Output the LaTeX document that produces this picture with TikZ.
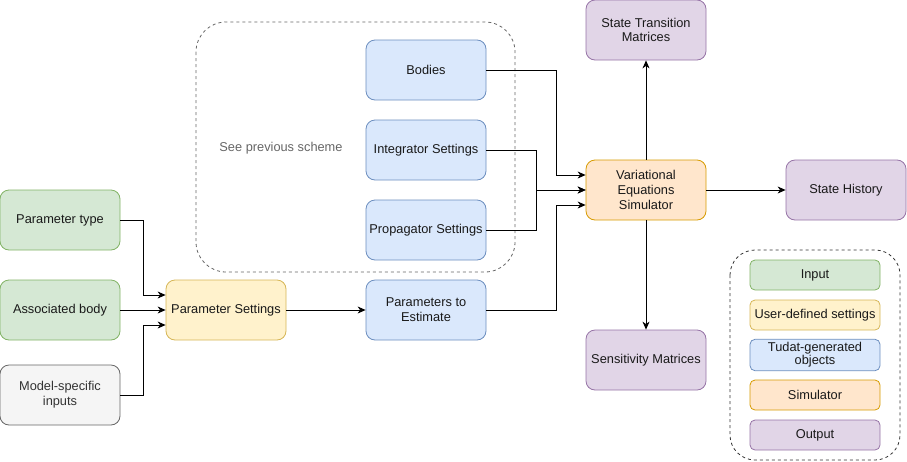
\documentclass[tikz,border=0pt]{standalone}
\usepackage{fontspec}
\setmainfont{Liberation Sans}
\usetikzlibrary{arrows, shapes, positioning, backgrounds, arrows.meta, calc, fit}
\definecolor{inFill}{HTML}{D5E8D4}
\definecolor{inLine}{HTML}{82B366}
\definecolor{usFill}{HTML}{FFF2CC}
\definecolor{usLine}{HTML}{D6B656}
\definecolor{tuFill}{HTML}{DAE8FC}
\definecolor{tuLine}{HTML}{6C8EBF}
\definecolor{siFill}{HTML}{FFE6CC}
\definecolor{siLine}{HTML}{D79B00}
\definecolor{ouFill}{HTML}{E1D5E7}
\definecolor{ouLine}{HTML}{9673A6}
\definecolor{mdFill}{HTML}{F5F5F5}
\definecolor{mdLine}{HTML}{666666}
\definecolor{mdText}{HTML}{333333}
\newcommand{\feed}[3]
{
	\draw[flow] (#2.east) -- +(#1,0) |- (#3)
}

\begin{document}
\begin{tikzpicture}[x=1pt, y=-1pt,
	every node/.append style={shape=rectangle, rounded corners=9pt,
		line width=0.8pt, align=center, text=black!90,
		font=\fontsize{12.8}{14.8}\selectfont},
	minimum width=120pt,
	minimum height=60pt,
	flow/.style={draw=black, line width=0.8pt, -{Stealth[length=8pt, width=7pt, inset=2.5pt]}},
	input/.style={draw=inLine, fill=inFill},
	user/.style={draw=usLine, fill=usFill},
	tudat/.style={draw=tuLine, fill=tuFill},
	sim/.style={draw=siLine, fill=siFill},
	output/.style={draw=ouLine, fill=ouFill},
	model/.style={draw=mdLine, fill=mdFill, text=mdText},
	keybox/.style={minimum width=130pt, minimum height=30pt, rounded corners=5pt}]

	\useasboundingbox (0,0) rectangle (907,461);

	\draw[mdLine, dashed, line width=0.8pt, rounded corners=30pt] (196,22) rectangle (515,272);
	\node[draw=none, minimum width=0pt, minimum height=0pt, text=mdLine] at (281,148) (prev){See previous scheme};

	\node[input] at (60, 220) (ptype){Parameter type};
	\node[input] at (60, 310) (abody){Associated body};
	\node[model] at (60, 395) (minput){Model-specific\\inputs};
	\node[user] at (226, 310) (psett){Parameter Settings};
	\node[tudat] at (426, 310) (pest){Parameters to\\Estimate};
	\node[tudat] at (426, 70) (bodies){Bodies};
	\node[tudat] at (426, 150) (integ){Integrator Settings};
	\node[tudat] at (426, 230) (prop){Propagator Settings};
	\node[sim] at (646, 190) (vsim){Variational\\Equations\\Simulator};
	\node[output] at (646, 30) (stm){State Transition\\Matrices};
	\node[output] at (846, 190) (hist){State History};
	\node[output] at (646, 360) (sens){Sensitivity Matrices};

	\coordinate (psettA) at ([yshift=15pt]psett.west);
	\coordinate (psettB) at ([yshift=-15pt]psett.west);
	\coordinate (vsimA) at ([yshift=15pt]vsim.west);
	\coordinate (vsimB) at ([yshift=-15pt]vsim.west);

	\feed{23}{ptype}{psettA};
	\feed{23}{minput}{psettB};
	\draw[flow] (abody) -- (psett);
	\draw[flow] (psett) -- (pest);
	\feed{70}{bodies}{vsimA};
	\feed{50}{integ}{vsim.west};
	\feed{50}{prop}{vsim.west};
	\feed{70}{pest}{vsimB};
	\draw[flow] (vsim) -- (stm);
	\draw[flow] (vsim) -- (hist);
	\draw[flow] (vsim) -- (sens);

	\draw[black!80, dashed, line width=0.8pt, rounded corners=25pt] (730,250) rectangle (900,460);
	\node[input, keybox] at (815, 275) (kin){Input};
	\node[user, keybox] at (815, 315) (kus){User-defined settings};
	\node[tudat, keybox, font=\fontsize{12.8}{12.8}\selectfont] at (815, 355) (ktu){Tudat-generated\\objects};
	\node[sim, keybox] at (815, 395) (ksi){Simulator};
	\node[output, keybox] at (815, 435) (kou){Output};
\end{tikzpicture}
\end{document}
